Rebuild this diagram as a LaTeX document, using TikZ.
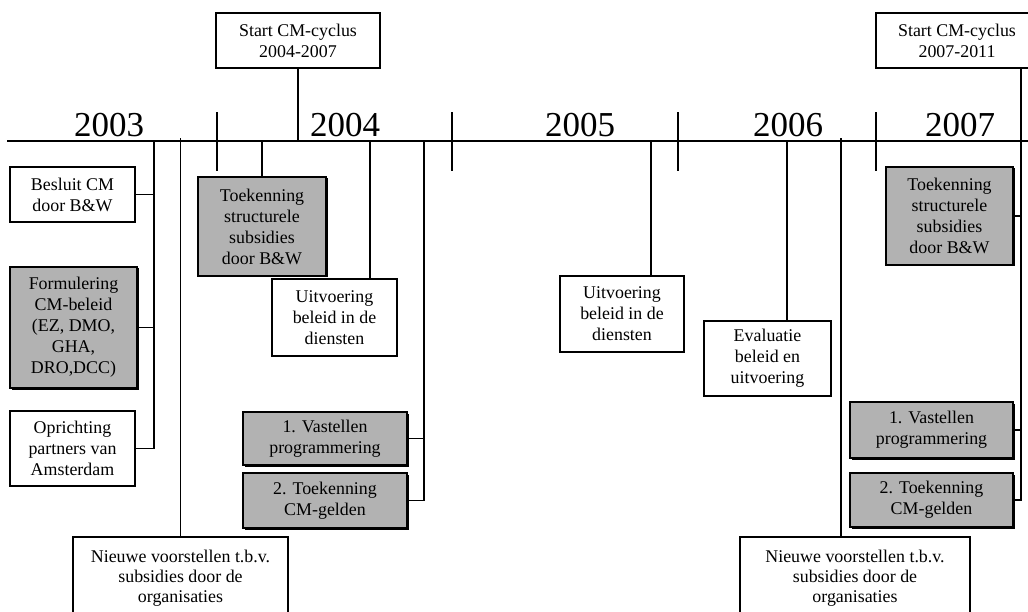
\documentclass[tikz,border=0pt]{standalone}
\usepackage{fontspec}
\setmainfont{Liberation Serif}
\usetikzlibrary{shadows}
\definecolor{boxgray}{RGB}{178,178,178}
\tikzset{
  ln/.style={line width=1.3pt, line cap=rect},
  wbox/.style={draw, line width=1.3pt, fill=white, align=center, inner sep=0pt,
    font=\fontsize{17.9}{21}\selectfont},
  gbox/.style={wbox, fill=boxgray, line width=2pt,
    general shadow={fill=black, shadow xshift=1.5pt, shadow yshift=-1.5pt}},
  yr/.style={anchor=base, inner sep=0pt, font=\fontsize{35}{40}\selectfont},
}
\begin{document}
\begin{tikzpicture}[x=1pt, y=-1pt]
\useasboundingbox (0,0) rectangle (1028,612);
\clip (0,0) rectangle (1028,612);
\fill[white] (0,0) rectangle (1028,612);

% timeline
\coordinate (L) at (8,141);
\coordinate (R) at (1030,141);
\draw[ln] (L) -- (R);

% years
\node[yr] (y2003) at (109,137) {2003};
\node[yr] (y2004) at (345,137) {2004};
\node[yr] (y2005) at (580,137) {2005};
\node[yr] (y2006) at (788,137) {2006};
\node[yr] (y2007) at (960,137) {2007};

% ticks
\foreach \tx [count=\i] in {217,452,678,876} {
  \coordinate (tka\i) at (\tx,113);
  \coordinate (tkb\i) at (\tx,170);
  \draw[ln] (tka\i) -- (tkb\i);
}

% boxes
\node[wbox, minimum width=164pt, minimum height=55pt] (s1) at (298,40.5) {Start CM-cyclus\\2004-2007};
\node[wbox, minimum width=162pt, minimum height=55pt] (s2) at (957,40.5) {Start CM-cyclus\\2007-2011};

\node[wbox, minimum width=125pt, minimum height=55pt] (b1) at (72.5,194.5) {Besluit CM\\door B\&W};
\node[gbox, minimum width=127pt, minimum height=121pt] (b2) at (73.5,327.5) {Formulering\\CM-beleid\\(EZ, DMO,\\GHA,\\DRO,DCC)};
\node[wbox, minimum width=125pt, minimum height=75pt] (b3) at (72.5,448.5) {Oprichting\\partners van\\Amsterdam};

\node[wbox, minimum width=215pt, minimum height=83pt, font=\fontsize{17.9}{20}\selectfont] (n1) at (180.5,578.5) {Nieuwe voorstellen t.b.v.\\subsidies door de\\organisaties};

\node[gbox, minimum width=128pt, minimum height=99pt] (t1) at (262,226.5) {Toekenning\\structurele\\subsidies\\door B\&W};
\node[wbox, minimum width=125pt, minimum height=77pt] (u1) at (334.5,317.5) {Uitvoering\\beleid in de\\diensten};

\node[gbox, minimum width=164pt, minimum height=53pt] (v1) at (325,438.5) {1. Vastellen\\programmering};
\node[gbox, minimum width=164pt, minimum height=55pt] (g1) at (325,500.5) {2. Toekenning\\CM-gelden};

\node[wbox, minimum width=124pt, minimum height=76pt] (u2) at (622,314) {Uitvoering\\beleid in de\\diensten};
\node[wbox, minimum width=127pt, minimum height=75pt] (e1) at (767.5,358.5) {Evaluatie\\beleid en\\uitvoering};

\node[wbox, minimum width=230pt, minimum height=83pt, font=\fontsize{17.9}{20}\selectfont] (n2) at (855,578.5) {Nieuwe voorstellen t.b.v.\\subsidies door de\\organisaties};

\node[gbox, minimum width=127pt, minimum height=98pt] (t2) at (949.5,216) {Toekenning\\structurele\\subsidies\\door B\&W};
\node[gbox, minimum width=163pt, minimum height=56pt] (v2) at (931.5,430) {1. Vastellen\\programmering};
\node[gbox, minimum width=163pt, minimum height=54pt] (g2) at (931.5,500) {2. Toekenning\\CM-gelden};

% connectors
\draw[ln] (s1.south) -- (s1.south |- L);

\coordinate (a1) at (154,141);
\draw[ln] (a1) |- (b3.east);
\draw[ln] (b1.east) -- (b1.east -| a1);
\draw[ln] (b2.east) -- (b2.east -| a1);

\coordinate (a2) at (180.5,139);
\draw[ln] (a2) -- (a2 |- n1.north);
\draw[ln] (t1.north) -- (t1.north |- L);

\coordinate (a3) at (370,141);
\draw[ln] (a3) -- (a3 |- u1.north);

\coordinate (a4) at (424,141);
\draw[ln] (a4) |- (g1.east);
\draw[ln] (v1.east) -- (v1.east -| a4);

\coordinate (a5) at (651,141);
\draw[ln] (a5) -- (a5 |- u2.north);
\coordinate (a6) at (787,141);
\draw[ln] (a6) -- (a6 |- e1.north);
\coordinate (a7) at (841,139);
\draw[ln] (a7) -- (a7 |- n2.north);

\coordinate (a8) at (1021,68);
\draw[ln] (a8) |- (g2.east);
\draw[ln] (t2.east) -- (t2.east -| a8);
\draw[ln] (v2.east) -- (v2.east -| a8);
\end{tikzpicture}
\end{document}
